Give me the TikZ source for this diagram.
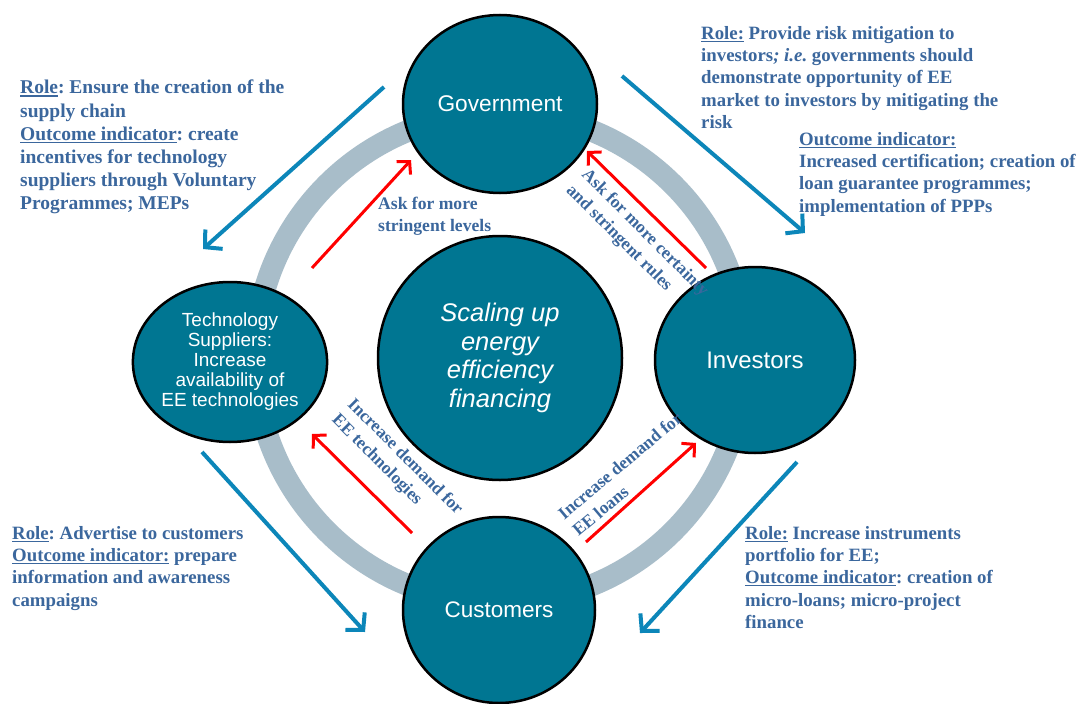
\documentclass[tikz,border=0pt]{standalone}
\usepackage{fontspec}
\setmainfont{Liberation Serif}
\newfontfamily\arialf{Liberation Sans}
\usetikzlibrary{arrows.meta,shapes.geometric}
\definecolor{tealc}{HTML}{007692}
\definecolor{ringc}{HTML}{A8BDC9}
\definecolor{barrow}{HTML}{0C86B9}
\definecolor{txtblue}{HTML}{3B679D}
\newcommand{\ulin}[1]{\setbox0\hbox{#1}\rlap{\rule[-2.6pt]{\wd0}{1.3pt}}\box0\relax}
\frenchspacing
\begin{document}
\begin{tikzpicture}[x=1pt,y=-1pt,
 actor/.style={ellipse, draw=black, line width=2.5pt, fill=tealc, text=white, inner sep=0pt, align=center},
 bluearr/.style={draw=barrow, line width=4pt, -{Straight Barb[length=12pt,width=26pt]}},
 redarr/.style={draw=red, line width=3pt, -{Straight Barb[length=9pt,width=19pt]}},
 infotext/.style={text=txtblue, font=\bfseries\fontsize{18.8}{22.3}\selectfont, align=left, anchor=north west, inner sep=0pt},
 flowlabel/.style={text=txtblue, font=\bfseries\fontsize{17.6}{22}\selectfont, align=left, inner sep=0pt}
]
\useasboundingbox (0,0) rectangle (1085,704);
\fill[white] (0,0) rectangle (1085,704);
% ring
\draw[ringc, line width=22pt] (500,358) circle[radius=245pt];

% actors
\node[actor, minimum width=194pt, minimum height=178pt, font=\arialf\fontsize{22.7}{26}\selectfont] (gov) at (500,104) {Government};
\node[actor, minimum width=200pt, minimum height=186pt, font=\arialf\fontsize{24}{28}\selectfont] (inv) at (755,360) {Investors};
\node[actor, minimum width=192pt, minimum height=186pt, font=\arialf\fontsize{22.5}{26}\selectfont] (cust) at (499,610) {Customers};
\node[actor, minimum width=184pt, minimum height=160pt, font=\arialf\fontsize{19}{20}\selectfont] (tech) at (230,362) {Technology\\Suppliers:\\Increase\\availability of\\EE technologies};
\node[actor, circle, minimum size=244pt, font=\arialf\itshape\fontsize{25.5}{28.5}\selectfont] (core) at (500,358) {Scaling up\\energy\\efficiency\\financing};

% blue arrows
\coordinate (b1s) at (384,87);  \coordinate (b1e) at (203,249);
\coordinate (b2s) at (622,76);  \coordinate (b2e) at (805,233);
\coordinate (b3s) at (202,452); \coordinate (b3e) at (365,632);
\coordinate (b4s) at (797,462); \coordinate (b4e) at (640,633);
\draw[bluearr] (b1s) -- (b1e);
\draw[bluearr] (b2s) -- (b2e);
\draw[bluearr] (b3s) -- (b3e);
\draw[bluearr] (b4s) -- (b4e);

% red arrows
\coordinate (r1s) at (312,268); \coordinate (r1e) at (411,160);
\coordinate (r2s) at (706,268); \coordinate (r2e) at (587,151);
\coordinate (r3s) at (412,533); \coordinate (r3e) at (312,434);
\coordinate (r4s) at (586,542); \coordinate (r4e) at (696,443);
\draw[redarr] (r1s) -- (r1e);
\draw[redarr] (r2s) -- (r2e);
\draw[redarr] (r3s) -- (r3e);
\draw[redarr] (r4s) -- (r4e);

% flow labels
\node[flowlabel, anchor=north west] (l1) at (378,197) {Ask for more\\stringent levels};
\node[flowlabel, rotate=-45] (l2) at (637,241) {Ask for more certainty\\and stringent rules};
\node[flowlabel, rotate=-45] (l3) at (397,465) {Increase demand for\\EE technologies};
\node[flowlabel, rotate=40] (l4) at (627,474) {Increase demand for\\EE loans};

% info blocks
\node[infotext, font=\bfseries\fontsize{19.5}{23.2}\selectfont] (tl) at (20,80) {\ulin{Role}: Ensure the creation of the\\supply chain\\\ulin{Outcome indicator}: create\\incentives for technology\\suppliers through Voluntary\\Programmes; MEPs};
\node[infotext] (tr) at (701,26) {\ulin{Role:} Provide risk mitigation to\\investors\textit{; i.e.} governments should\\demonstrate opportunity of EE\\market to investors by mitigating the\\risk};
\node[infotext] (tr2) at (799,132) {\ulin{Outcome indicator:}\\Increased certification; creation of\\loan guarantee programmes;\\implementation of PPPs};
\node[infotext] (bl) at (12,526) {\ulin{Role}: Advertise to customers\\\ulin{Outcome indicator:} prepare\\information and awareness\\campaigns};
\node[infotext] (br) at (745,526) {\ulin{Role:} Increase instruments\\portfolio for EE;\\\ulin{Outcome indicator}: creation of\\micro-loans; micro-project\\finance};
\end{tikzpicture}
\end{document}
